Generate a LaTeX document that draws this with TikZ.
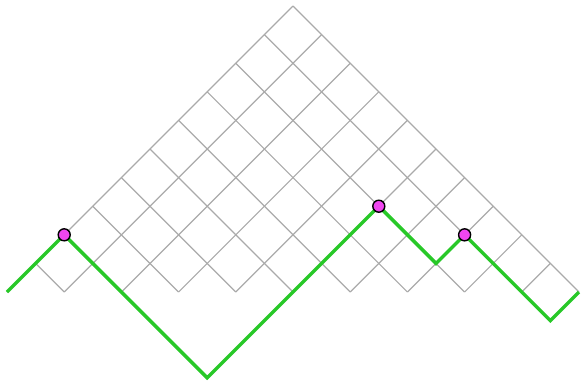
\documentclass[tikz,border=0pt]{standalone}
\definecolor{gridgrey}{RGB}{170,170,170}
\definecolor{pathgreen}{RGB}{40,200,40}
\definecolor{peakmagenta}{RGB}{240,70,240}
\begin{document}
\begin{tikzpicture}[x=0.5cm,y=0.5cm,
  gridline/.style={draw=gridgrey, line width=0.6pt},
  pathline/.style={draw=pathgreen, line width=1.7pt, line join=miter},
  peak/.style={circle, fill=peakmagenta, draw=black, line width=0.7pt, inner sep=0pt, minimum size=0.21cm}]
\useasboundingbox (-0.245,-3.112) rectangle (20.105,10.21);
% grid lines of the triangle
\foreach \c in {0,2,...,18} \draw[gridline] (\c,0) -- ({(20+\c)/2},{(20-\c)/2});
\foreach \d in {2,4,...,20} \draw[gridline] (\d,0) -- ({\d/2},{\d/2});
% path points
\coordinate (p0) at (0,0);
\coordinate (p1) at (2,2);
\coordinate (p2) at (7,-3);
\coordinate (p3) at (13,3);
\coordinate (p4) at (15,1);
\coordinate (p5) at (16,2);
\coordinate (p6) at (19,-1);
\coordinate (p7) at (20,0);
\draw[pathline] (p0) -- (p1) -- (p2) -- (p3) -- (p4) -- (p5) -- (p6) -- (p7);
\node[peak] (d1) at (p1) {};
\node[peak] (d2) at (p3) {};
\node[peak] (d3) at (p5) {};
\end{tikzpicture}
\end{document}
